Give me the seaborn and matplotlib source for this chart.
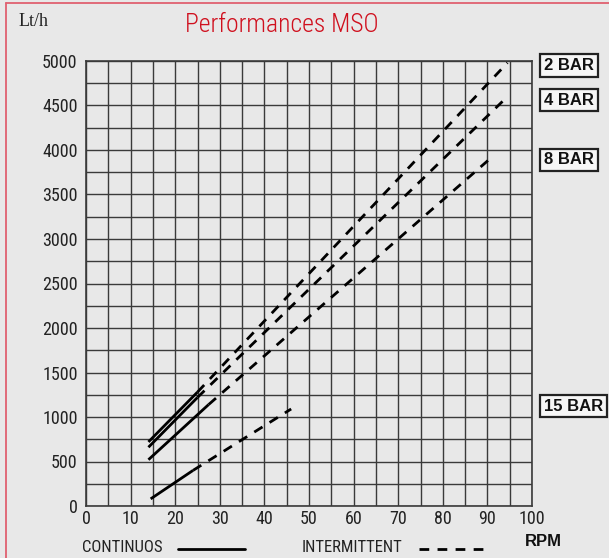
import matplotlib
matplotlib.use("Agg")
import matplotlib.pyplot as plt
from matplotlib.lines import Line2D
import seaborn as sns
import pandas as pd

# ---- data ----
series = ["2 BAR", "4 BAR", "8 BAR", "15 BAR"]
cont_rpm = [[14, 25], [14, 25], [14, 27.5], [14.5, 24]]
cont_flow = [[720, 1280], [660, 1220], [520, 1140], [80, 400]]
inter_rpm = [[25, 94.5], [25, 94.5], [27.5, 91], [24, 46]]
inter_flow = [[1280, 4980], [1220, 4600], [1140, 3920], [400, 1090]]
label_y = [4950, 4560, 3890, 1120]
x_ticks = [0, 10, 20, 30, 40, 50, 60, 70, 80, 90, 100]
y_ticks = [0, 500, 1000, 1500, 2000, 2500, 3000, 3500, 4000, 4500, 5000]

BG = "#e8e8e8"
COND = ["Roboto Condensed", "Liberation Sans Narrow", "DejaVu Sans"]
sns.set_theme(style="white")
plt.rcParams["font.family"] = COND
plt.rcParams["font.stretch"] = "condensed"

fig = plt.figure(figsize=(6.09, 5.58), dpi=100, facecolor=BG)
ax = fig.add_axes([86 / 609, 52 / 558, 446 / 609, 445 / 558])
ax.set_facecolor(BG)

rows = []
for s, r, f in zip(series, cont_rpm, cont_flow):
    for xx, yy in zip(r, f):
        rows.append(dict(series=s, kind="cont", rpm=xx, flow=yy))
for s, r, f in zip(series, inter_rpm, inter_flow):
    for xx, yy in zip(r, f):
        rows.append(dict(series=s, kind="inter", rpm=xx, flow=yy))
df = pd.DataFrame(rows)

for s in series:
    d = df[(df.series == s) & (df.kind == "cont")]
    sns.lineplot(data=d, x="rpm", y="flow", ax=ax, color="black", lw=2.0,
                 solid_capstyle="butt", sort=False, estimator=None)
    d = df[(df.series == s) & (df.kind == "inter")]
    sns.lineplot(data=d, x="rpm", y="flow", ax=ax, color="black", lw=2.0,
                 dashes=False, sort=False, estimator=None)
    ax.lines[-1].set_dashes([3.5, 3.0])

ax.set_xlim(0, 100)
ax.set_ylim(0, 5000)
ax.set_xticks(x_ticks)
ax.set_yticks(y_ticks)
ax.set_xticks(range(0, 101, 5), minor=True)
ax.set_yticks(range(0, 5001, 250), minor=True)
ax.grid(True, which="both", color="#3a3a3a", lw=1.0)
ax.set_axisbelow(True)
ax.tick_params(axis="both", which="both", length=0, labelsize=13, colors="#222222")
ax.tick_params(axis="x", pad=3)
ax.tick_params(axis="y", pad=6)
for sp in ax.spines.values():
    sp.set_color("#3a3a3a")
    sp.set_linewidth(1.2)
ax.set_xlabel("")
ax.set_ylabel("")

for s, yv in zip(series, label_y):
    ax.text(102.7, yv, s, ha="left", va="center", fontsize=12, fontweight="bold",
            family=["Liberation Sans", "DejaVu Sans"], fontstretch="normal",
            color="#111111",
            bbox=dict(boxstyle="square,pad=0.22", fc="#f6f6f6", ec="#222222", lw=1.6),
            clip_on=False)

fig.text(281.5 / 609, 1 - 25 / 558, "Performances MSO", ha="center", va="center",
         fontsize=18.5, color="#d0101e", family=COND, fontstretch="condensed",
         fontweight="light")
fig.text(34 / 609, 1 - 21 / 558, "Lt/h", ha="center", va="center", fontsize=13,
         family=["Liberation Serif", "DejaVu Serif"], fontstretch="normal",
         color="#222222")
fig.text(543 / 609, 1 - 542 / 558, "RPM", ha="center", va="center", fontsize=12,
         fontweight="bold", family=["Liberation Sans", "DejaVu Sans"],
         fontstretch="normal", color="#111111")
fig.text(122 / 609, 1 - 548 / 558, "CONTINUOS", ha="center", va="center",
         fontsize=12, color="#222222")
fig.text(352 / 609, 1 - 548 / 558, "INTERMITTENT", ha="center", va="center",
         fontsize=12, color="#222222")
fig.add_artist(Line2D([178 / 609, 245 / 609], [1 - 549 / 558] * 2, color="black",
                      lw=2.0, transform=fig.transFigure))
fig.add_artist(Line2D([419 / 609, 484 / 609], [1 - 549 / 558] * 2, color="black",
                      lw=2.0, dashes=[3.5, 3.0], transform=fig.transFigure))

# red frame on left and top
fig.add_artist(Line2D([6 / 609, 6 / 609], [0, 1 - 3 / 558], color="#e06070", lw=1.3,
                      transform=fig.transFigure))
fig.add_artist(Line2D([6 / 609, 1], [1 - 3 / 558] * 2, color="#e06070", lw=1.3,
                      transform=fig.transFigure))

fig.savefig("out.png", dpi=100, facecolor=BG)
